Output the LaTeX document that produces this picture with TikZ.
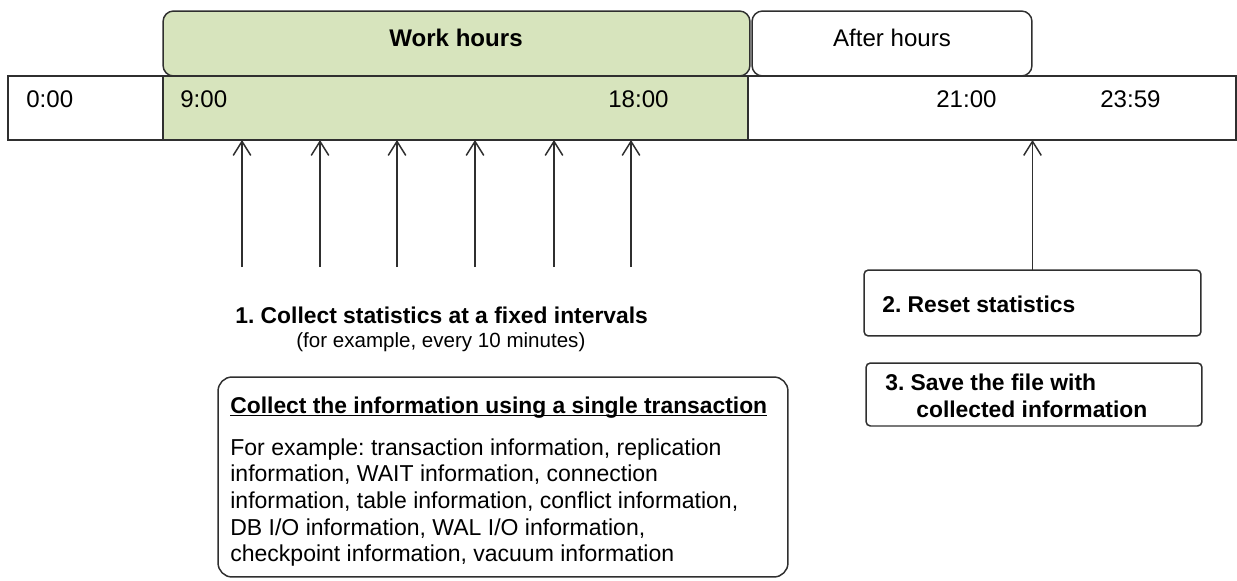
\documentclass[tikz,border=0pt]{standalone}
\usepackage{fontspec}
\setmainfont{Liberation Sans}
\usepackage{xcolor}
\usetikzlibrary{arrows.meta}
\definecolor{workgreen}{HTML}{D7E4BD}
\definecolor{linegray}{HTML}{2F2F2F}
\frenchspacing

\begin{document}
\begin{tikzpicture}[x=0.02cm,y=-0.02cm]
      \useasboundingbox (0,0) rectangle (1237,581);
      \tikzset{C/.style = {shape=rectangle, draw=linegray, line width=0.85pt, inner sep=0pt, outer sep=0pt}}
      \tikzset{R/.style = {C, rounded corners=6pt}}
      \tikzset{L/.style = {anchor=base west, inner sep=0pt, text=black, font=\fontsize{13.7}{16}\selectfont}}
      \tikzset{S/.style = {anchor=base west, inner sep=0pt, text=black, font=\fontsize{13}{15}\selectfont\bfseries}}
      \tikzset{E/.style = {draw=linegray, line width=0.85pt, -{Straight Barb[length=8pt,width=10pt]}}}
      % time line
      \node[C, minimum width=3.1cm, minimum height=1.28cm] (cell0) at (85.5,108) {};
      \node[C, fill=workgreen, minimum width=11.7cm, minimum height=1.28cm] (cellw) at (455.5,108) {};
      \node[C, minimum width=9.76cm, minimum height=1.28cm] (cella) at (992,108) {};
      \node[R, fill=workgreen, minimum width=11.74cm, minimum height=1.3cm] (work) at (456.5,43.5) {};
      \node[R, minimum width=5.6cm, minimum height=1.3cm] (after) at (892,43.5) {};
      \node[L] (t0) at (26,108) {0:00};
      \node[L] (t9) at (180,108) {9:00};
      \node[L] (t18) at (608,108) {18:00};
      \node[L] (t21) at (936,108) {21:00};
      \node[L] (t24) at (1100,108) {23:59};
      \node[L, anchor=base, font=\fontsize{13.7}{16}\selectfont\bfseries] (workl) at (456,47) {Work hours};
      \node[L, anchor=base] (afterl) at (892,47) {After hours};
      % steps
      \node[S] (step1) at (235,323) {1. Collect statistics at a fixed intervals};
      \node[L, font=\fontsize{11.7}{14}\selectfont] (step1n) at (296,347) {(for example, every 10 minutes)};
      \node[C, rounded corners=8pt, minimum width=11.4cm, minimum height=4cm] (info) at (503,477) {};
      \node[S] (infot) at (230,413) {\underline{\smash{Collect the information using a single transaction}}};
      \node[anchor=north west, inner sep=0pt, align=left, font=\fontsize{13.1}{15.2}\selectfont] (infob) at (230,438)
        {For example: transaction information, replication\\
         information, WAIT information, connection\\
         information, table information, conflict information,\\
         DB I/O information, WAL I/O information,\\
         checkpoint information, vacuum information};
      \node[C, rounded corners=2.5pt, minimum width=6.74cm, minimum height=1.32cm] (reset) at (1032.5,303) {};
      \node[S] (step2) at (882,312) {2. Reset statistics};
      \node[C, rounded corners=2.5pt, minimum width=6.72cm, minimum height=1.26cm] (save) at (1034,394.5) {};
      \node[S] (step3) at (885,390) {3. Save the file with};
      \node[S] (step3b) at (916,417) {collected information};
      % collection points
      \coordinate (a1) at (242,267);
      \coordinate (a2) at (320,267);
      \coordinate (a3) at (397,267);
      \coordinate (a4) at (475,267);
      \coordinate (a5) at (554,267);
      \coordinate (a6) at (631,267);
      \draw[E] (a1) to (a1 |- cellw.south);
      \draw[E] (a2) to (a2 |- cellw.south);
      \draw[E] (a3) to (a3 |- cellw.south);
      \draw[E] (a4) to (a4 |- cellw.south);
      \draw[E] (a5) to (a5 |- cellw.south);
      \draw[E] (a6) to (a6 |- cellw.south);
      \draw[E] (reset.north) to (reset.north |- cella.south);
    \end{tikzpicture}
\end{document}
